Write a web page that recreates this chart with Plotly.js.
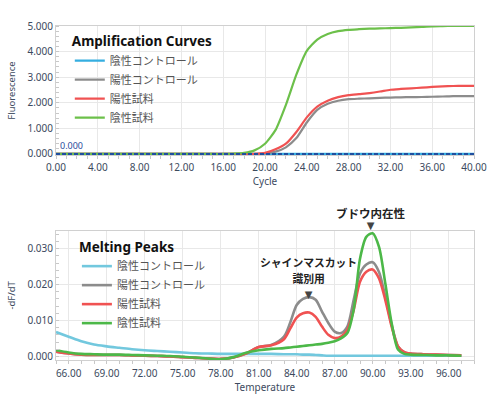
<!DOCTYPE html>
<html>
<head>
<meta charset="utf-8">
<script src="https://cdn.plot.ly/plotly-3.0.1.min.js"></script>
<style>html,body{margin:0;padding:0;background:#fff;}#chart{width:500px;height:396px;}</style>
</head>
<body>
<div id="chart"></div>
<script>
// ---------- Amplification curves (top) ----------
const cycles = [0,1,2,3,4,5,6,7,8,9,10,11,12,13,14,15,16,17,18,19,20,21,22,23,24,25,26,27,28,29,30,31,32,33,34,35,36,37,38,39,40];
const ampNegCtrl = [0,0,0,0,0,0,0,0,0,0,0,0,0,0,0,0,0,0,0,0,0,0,0,0,0,0,0,0,0,0,0,0,0,0,0,0,0,0,0,0,0];
const ampPosCtrl = [0,0,0,0,0,0,0,0,0,0,0,0,0,0,0,0,0,0,0,0,20,90,260,620,1230,1720,1960,2080,2140,2160,2175,2190,2205,2215,2220,2225,2235,2245,2260,2262,2262];
const ampPosSample = [0,0,0,0,0,0,0,0,0,0,0,0,0,0,0,0,0,0,0,5,40,180,400,860,1430,1850,2080,2220,2300,2340,2380,2440,2510,2540,2565,2590,2620,2640,2655,2660,2660];
const ampNegSample = [0,0,0,0,0,0,0,0,0,0,0,0,0,0,0,0,0,10,40,140,400,930,1920,3100,4030,4470,4690,4800,4850,4875,4895,4905,4920,4930,4945,4960,4985,4995,5005,5005,5005];
const threshold = 0;
const ampYTicks = [0,1000,2000,3000,4000,5000];
const ampYTickText = ["0.000","1.000","2.000","3.000","4.000","5.000"];
const ampXTicks = [0,4,8,12,16,20,24,28,32,36,40];

// ---------- Melting peaks (bottom) ----------
const temps = [65,66,67,68,69,70,71,72,73,74,75,76,77,78,79,80,81,82,83,83.5,84,84.5,85,85.5,86,86.5,87,87.5,88,88.5,89,89.5,90,90.5,91,91.5,92,92.5,93,94,95,96,97];
const mpNegCtrl = [0.0068,0.0055,0.0042,0.0033,0.0028,0.0024,0.0020,0.0017,0.0015,0.0013,0.0011,0.0009,0.0008,0.0007,0.0007,0.0007,0.0007,0.0007,0.0006,0.0006,0.0006,0.0005,0.0005,0.0004,0.0003,0.0002,0.0002,0.0002,0.0002,0.0002,0.0002,0.0002,0.0002,0.0002,0.0002,0.0002,0.0002,0.0002,0.0002,0.0002,0.0002,0.0002,0.0002];
const mpPosCtrl = [0.0013,0.0008,0.0005,0.0004,0.0004,0.0004,0.0003,0.0002,0.0001,0.0000,-0.0002,-0.0004,-0.0006,-0.0007,-0.0003,0.0008,0.0026,0.0032,0.0055,0.0095,0.0143,0.0160,0.0165,0.0158,0.0125,0.0093,0.0069,0.0065,0.0083,0.0157,0.0231,0.0256,0.0262,0.0235,0.0166,0.0088,0.0028,0.0012,0.0008,0.0006,0.0005,0.0004,0.0003];
const mpPosSample = [0.0013,0.0008,0.0005,0.0004,0.0004,0.0004,0.0003,0.0002,0.0001,0.0000,-0.0002,-0.0004,-0.0006,-0.0007,-0.0003,0.0008,0.0026,0.0031,0.0048,0.0078,0.0108,0.0120,0.0122,0.0110,0.0083,0.0060,0.0051,0.0055,0.0074,0.0129,0.0208,0.0236,0.0242,0.0217,0.0157,0.0083,0.0028,0.0012,0.0008,0.0006,0.0005,0.0004,0.0003];
const mpNegSample = [0.0017,0.0011,0.0007,0.0006,0.0005,0.0005,0.0004,0.0003,0.0002,0.0001,-0.0001,-0.0003,-0.0006,-0.0008,-0.0002,0.0010,0.0017,0.0021,0.0023,0.0025,0.0027,0.0029,0.0031,0.0033,0.0035,0.0038,0.0042,0.0050,0.0065,0.0130,0.0272,0.0333,0.0343,0.0305,0.0203,0.0092,0.0019,0.0007,0.0005,0.0004,0.0003,0.0003,0.0002];
const mpXTicks = [66,69,72,75,78,81,84,87,90,93,96];
const mpYTicks = [0,0.01,0.02,0.03];

const names = ["陰性コントロール","陽性コントロール","陽性試料","陰性試料"];
const topColors = ["#35aee0","#8c8c8c","#f05252","#6cc04a"];
const botColors = ["#72c8de","#8c8c8c","#f05252","#4cb848"];

const ampSeries = [ampNegCtrl, ampPosCtrl, ampPosSample, ampNegSample];
const mpSeries = [mpNegCtrl, mpPosCtrl, mpPosSample, mpNegSample];

const traces = [];
ampSeries.forEach((s,i)=>{
  traces.push({x:cycles, y:s, type:'scatter', mode:'lines', name:names[i],
    line:{color:topColors[i], width:2.2, shape:'spline', smoothing:0.6},
    xaxis:'x', yaxis:'y', legend:'legend'});
});
mpSeries.forEach((s,i)=>{
  traces.push({x:temps, y:s, type:'scatter', mode:'lines', name:names[i],
    line:{color:botColors[i], width:2.6, shape:'spline', smoothing:0.8},
    xaxis:'x2', yaxis:'y2', legend:'legend2'});
});

const tickFont = {family:'Noto Sans, sans-serif', size:10, color:'#3c4a5e'};
const titleFont = {family:'Noto Sans, sans-serif', size:10, color:'#3c4a5e'};
const axisCommon = {
  showline:true, linecolor:'#d0d0d0', linewidth:1, mirror:true,
  showgrid:true, gridcolor:'#e8e8e8', gridwidth:1, zeroline:false,
  ticks:'', tickfont:tickFont
};
const jpFont = 'Noto Sans CJK JP, Noto Sans, sans-serif';
const tri = "<span style='font-family:DejaVu Sans;font-size:10px;fill:#444'>▼</span>";

const layout = {
  width:500, height:396,
  margin:{l:56, r:26, t:26, b:36},
  paper_bgcolor:'#fff', plot_bgcolor:'#fff',
  showlegend:true,
  xaxis:Object.assign({}, axisCommon, {
    domain:[0,1], anchor:'y', range:[0,40],
    tickvals:ampXTicks, tickformat:'.2f', ticklabelstandoff:3,
    minor:{ticks:'outside', ticklen:3, dtick:1, tickcolor:'#c8c8c8', showgrid:false},
    title:{text:'Cycle', font:titleFont, standoff:2}
  }),
  yaxis:Object.assign({}, axisCommon, {
    domain:[0.6138,1], anchor:'x', range:[-40,5000],
    tickvals:ampYTicks, ticktext:ampYTickText,
    minor:{ticks:'inside', ticklen:3, dtick:200, tickcolor:'#c8c8c8', showgrid:false},
    title:{text:'Fluorescence', font:{family:'Noto Sans, sans-serif', size:9.5, color:'#3c4a5e'}, standoff:10}
  }),
  xaxis2:Object.assign({}, axisCommon, {
    domain:[0,1], anchor:'y2', range:[65,98],
    tickvals:mpXTicks, tickformat:'.2f', ticklabelstandoff:4,
    minor:{ticks:'outside', ticklen:3, dtick:1, tickcolor:'#c8c8c8', showgrid:false},
    title:{text:'Temperature', font:titleFont, standoff:1}
  }),
  yaxis2:Object.assign({}, axisCommon, {
    domain:[0,0.387], anchor:'x2', range:[-0.001,0.035],
    tickvals:mpYTicks, tickformat:'.3f',
    minor:{ticks:'inside', ticklen:3, dtick:0.002, tickcolor:'#c8c8c8', showgrid:false},
    title:{text:'-dF/dT', font:{family:'Noto Sans, sans-serif', size:9.5, color:'#3c4a5e'}, standoff:10}
  }),
  legend:{
    x:0.033, y:0.992, xanchor:'left', yanchor:'top', bgcolor:'rgba(0,0,0,0)',
    font:{family:jpFont, size:11, color:'#555'}, tracegroupgap:0,
    title:{text:'Amplification Curves', side:'top', font:{family:'Noto Sans, sans-serif', size:13.5, color:'#111', weight:'bold'}}
  },
  legend2:{
    x:0.05, y:0.377, xanchor:'left', yanchor:'top', bgcolor:'rgba(0,0,0,0)',
    font:{family:jpFont, size:11, color:'#555'}, tracegroupgap:0,
    title:{text:'Melting Peaks', side:'top', font:{family:'Noto Sans, sans-serif', size:13.5, color:'#111', weight:'bold'}}
  },
  shapes:[{
    type:'line', xref:'x domain', x0:0, x1:1, yref:'y', y0:threshold, y1:threshold,
    line:{color:'#1f4fa0', width:2, dash:'4px,2px'}
  }],
  annotations:[
    {xref:'x', yref:'y', x:0.2, y:threshold, xanchor:'left', yanchor:'bottom', yshift:0,
     text:'0.000', showarrow:false, font:{family:'Noto Sans, sans-serif', size:9, color:'#2a4d9c'}},
    {xref:'x2', yref:'paper', x:89.82, y:0.470, yanchor:'top', showarrow:false,
     text:"<span style='font-size:11.5px'>ブドウ内在性</span><br>" + tri,
     font:{family:jpFont, size:8.5, color:'#222', weight:'bold'}},
    {xref:'x2', yref:'paper', x:84.96, y:0.322, yanchor:'top', showarrow:false,
     text:"<span style='font-size:10.8px'>シャインマスカット</span><br><span style='font-size:10.8px'>識別用</span><br>" + tri,
     font:{family:jpFont, size:12, color:'#222', weight:'bold'}}
  ]
};

Plotly.newPlot('chart', traces, layout, {displayModeBar:false, staticPlot:true});
</script>
</body>
</html>
